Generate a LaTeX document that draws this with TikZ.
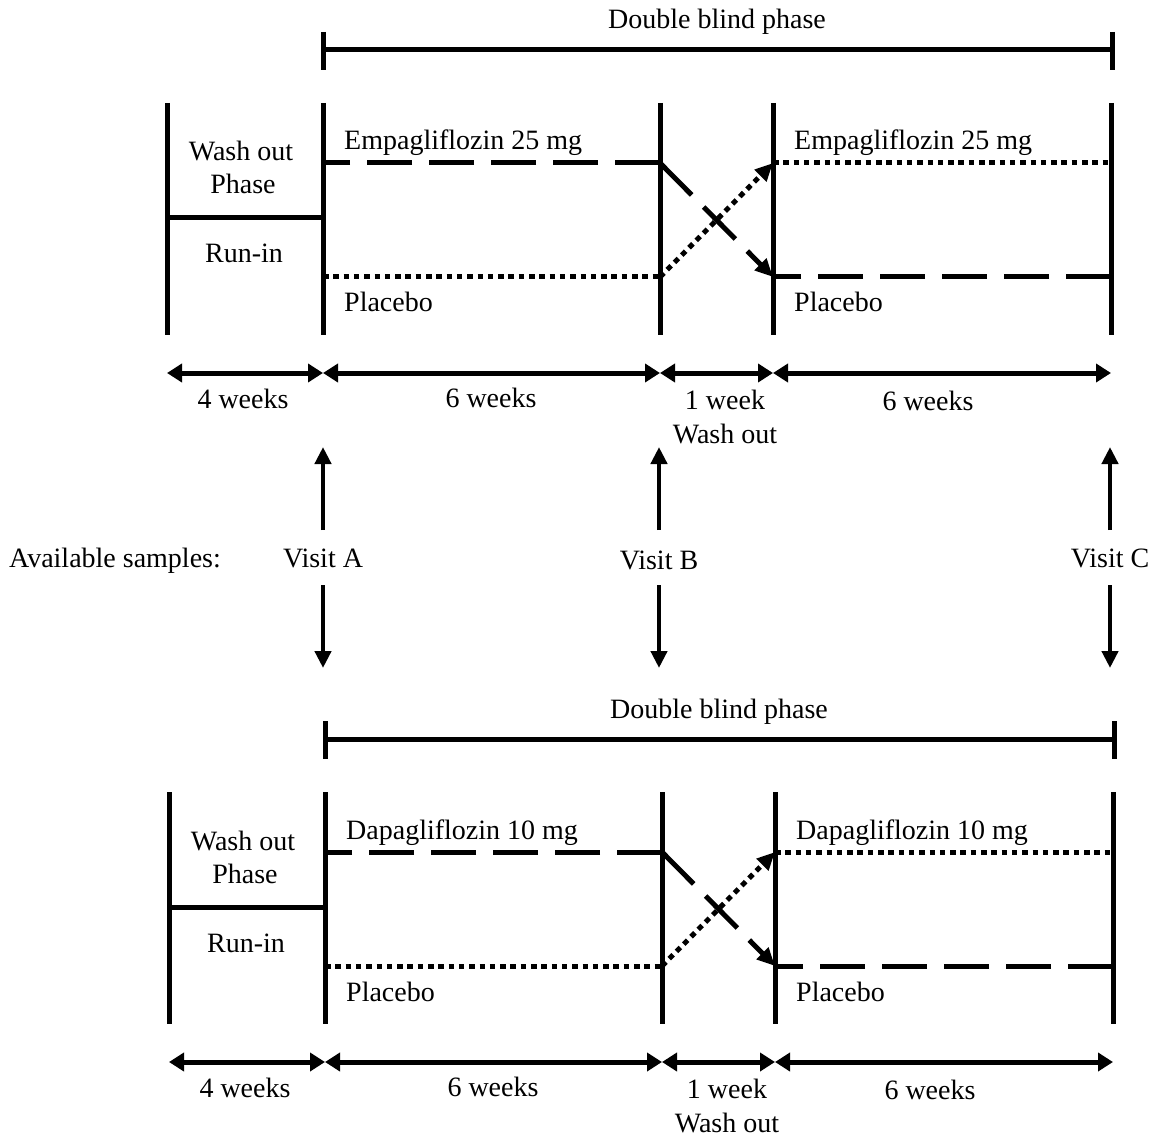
\documentclass[tikz,border=0pt]{standalone}
\usepackage{fontspec}
\setmainfont{Liberation Serif}
\usetikzlibrary{arrows.meta}
\begin{document}
\begin{tikzpicture}[x=1pt,y=-1pt,
  every node/.style={inner sep=0pt,font=\fontsize{28}{32}\selectfont},
  rule/.style={line width=5pt},
  dashline/.style={line width=5pt,dash pattern=on 45pt off 17pt},
  dotline/.style={line width=5pt,dash pattern=on 5.5pt off 4.8pt},
  crosstip/.style={-{Triangle[length=18pt,width=16pt]}},
  dbl/.style={line width=5pt,{Triangle[length=15pt,width=18pt]}-{Triangle[length=15pt,width=18pt]}},
  vis/.style={line width=4.5pt,-{Triangle[length=17pt,width=16pt]}}
]
\useasboundingbox (0,0) rectangle (1158,1139);

\foreach \dy/\dx/\drug/\p in {0/0/{Empagliflozin 25 mg}/t, 689/2/{Dapagliflozin 10 mg}/b} {
\begin{scope}[shift={(\dx,\dy)}]
  % title and bracket
  \node[anchor=base] (\p-title) at (717,29) {Double blind phase};
  \coordinate (\p-bl) at (323,50);
  \coordinate (\p-br) at (1112,50);
  \draw[rule] (\p-bl) -- (\p-br);
  \draw[rule] (323,32) -- (323,70);
  \draw[rule] (1112,32) -- (1112,70);
  % vertical lines
  \foreach \x/\n in {167/1,323/2,660/3,773/4,1111/5} {
    \coordinate (\p-v\n t) at (\x,103);
    \coordinate (\p-v\n b) at (\x,335);
    \draw[rule] (\p-v\n t) -- (\p-v\n b);
  }
  % run-in box divider
  \coordinate (\p-ml) at (167,218);
  \coordinate (\p-mr) at (323,218);
  \draw[rule] (\p-ml) -- (\p-mr);
  \node[anchor=base] (\p-wo) at (241,161) {Wash out};
  \node[anchor=base] (\p-ph) at (243,194) {Phase};
  \node[anchor=base] (\p-ri) at (244,263) {Run-in};
  % treatment lines
  \coordinate (\p-a1) at (323,163);
  \coordinate (\p-a2) at (660,163);
  \coordinate (\p-a3) at (773,163);
  \coordinate (\p-a4) at (1111,163);
  \coordinate (\p-c1) at (323,277);
  \coordinate (\p-c2) at (660,277);
  \coordinate (\p-c3) at (773,277);
  \coordinate (\p-c4) at (1111,277);
  \draw[dashline] (\p-a2) -- (\p-a1);
  \draw[dotline] (\p-c1) -- (\p-c2);
  \draw[dashline,crosstip] (\p-a2) -- (\p-c3);
  \draw[dotline,crosstip] (\p-c2) -- (\p-a3);
  \draw[dotline] (\p-a3) -- (\p-a4);
  \draw[dashline] (\p-c4) -- (\p-c3);
  \node[anchor=base west] (\p-d1) at (344,150) {\drug};
  \node[anchor=base west] (\p-p1) at (344,312) {Placebo};
  \node[anchor=base west] (\p-d2) at (794,150) {\drug};
  \node[anchor=base west] (\p-p2) at (794,312) {Placebo};
  % durations
  \coordinate (\p-r1) at (167,373);
  \coordinate (\p-r2) at (323,373);
  \coordinate (\p-r3) at (660,373);
  \coordinate (\p-r4) at (773,373);
  \coordinate (\p-r5) at (1111,373);
  \draw[dbl] (\p-r1) -- (\p-r2);
  \draw[dbl] (\p-r2) -- (\p-r3);
  \draw[dbl] (\p-r3) -- (\p-r4);
  \draw[dbl] (\p-r4) -- (\p-r5);
  \node[anchor=base] (\p-w1) at (243,408) {4 weeks};
  \node[anchor=base] (\p-w2) at (491,407) {6 weeks};
  \node[anchor=base] (\p-w3) at (725,409) {1 week};
  \node[anchor=base] (\p-w3b) at (725,443) {Wash out};
  \node[anchor=base] (\p-w4) at (928,410) {6 weeks};
\end{scope}
}

% visits
\node[anchor=base] (avail) at (115,567) {Available samples:};
\node[anchor=base] (visA) at (323,567) {Visit A};
\node[anchor=base] (visB) at (659,569) {Visit B};
\node[anchor=base] (visC) at (1110,567) {Visit C};
\foreach \v/\x in {A/323,B/659,C/1110} {
  \coordinate (up\v s) at (\x,530);
  \coordinate (up\v e) at (\x,447);
  \coordinate (dn\v s) at (\x,585);
  \coordinate (dn\v e) at (\x,668);
  \draw[vis] (up\v s) -- (up\v e);
  \draw[vis] (dn\v s) -- (dn\v e);
}
\end{tikzpicture}
\end{document}
